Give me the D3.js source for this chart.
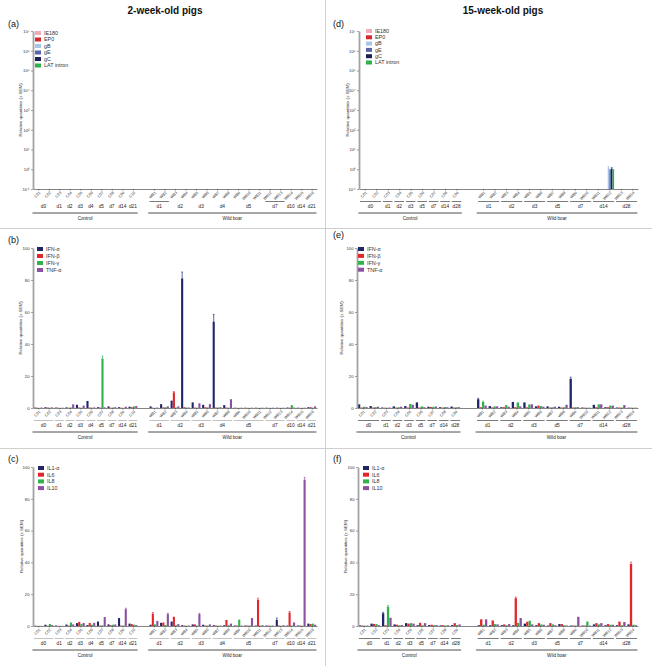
<!DOCTYPE html>
<html><head><meta charset="utf-8">
<script src="https://cdn.jsdelivr.net/npm/d3@7"></script>
<style>body{margin:0;background:#fff}svg{display:block;font-family:"Liberation Sans",Arial,sans-serif}</style>
</head><body><svg id="c" width="652" height="666"></svg>
<script>
// ---------- categories ----------
const ctrl2 = ["C01","C02","C03","C04","C05","C06","C07","C08","C09","C10"];
const ctrl2Days = ["d0","d0","d1","d2","d3","d4","d5","d7","d14","d21"];
const wb2 = ["WB1","WB2","WB3","WB4","WB5","WB6","WB7","WB8","WB9","WB10","WB11","WB12","WB13","WB14","WB15","WB16"];
const wb2Days = ["d1","d1","d2","d2","d3","d3","d4","d4","d5","d5","d5","d7","d7","d10","d14","d21"];
const ctrl15 = ["C01","C02","C03","C04","C05","C06","C07","C08","C09"];
const ctrl15Days = ["d0","d0","d1","d2","d3","d5","d7","d14","d28"];
const wb15 = ["WB1","WB2","WB3","WB4","WB5","WB6","WB7","WB8","WB9","WB10","WB11","WB12","WB13","WB14"];
const wb15Days = ["d1","d1","d2","d2","d3","d3","d5","d5","d7","d7","d14","d14","d28","d28"];
const groupNames = ["Control","Wild boar"];

const herpesSeries = ["IE180","EP0","gB","gE","gC","LAT intron"];
const ifnSeries = ["IFN-α","IFN-β","IFN-γ","TNF-α"];
const ilSeries = ["IL1-α","IL6","IL8","IL10"];
const logTicks = [0.1,1,10,100,1000,10000,100000,1000000,10000000];
const linTicks = [0,20,40,60,80,100];

// ---------- values (control samples then wild boar samples) ----------
// (a) 2-week, viral transcripts: nothing above axis minimum
const a_IE180 = [0,0,0,0,0,0,0,0,0,0, 0,0,0,0,0,0,0,0,0,0,0,0,0,0,0,0];
const a_EP0   = [0,0,0,0,0,0,0,0,0,0, 0,0,0,0,0,0,0,0,0,0,0,0,0,0,0,0];
const a_gB    = [0,0,0,0,0,0,0,0,0,0, 0,0,0,0,0,0,0,0,0,0,0,0,0,0,0,0];
const a_gE    = [0,0,0,0,0,0,0,0,0,0, 0,0,0,0,0,0,0,0,0,0,0,0,0,0,0,0];
const a_gC    = [0,0,0,0,0,0,0,0,0,0, 0,0,0,0,0,0,0,0,0,0,0,0,0,0,0,0];
const a_LAT   = [0,0,0,0,0,0,0,0,0,0, 0,0,0,0,0,0,0,0,0,0,0,0,0,0,0,0];
// (b) 2-week, IFN / TNF
const b_IFNa = [0.3,0.5,0.3,0.4,2.0,4.4,0.5,1.0,0.5,0.8, 1.0,2.4,4.6,81,3.5,2.0,54,1.8,0.2,0.2,0.2,0.2,0.2,0.3,0.2,0.5];
const b_IFNb = [0.2,0.3,0.2,0.2,0.3,0.3,0.3,0.2,0.2,0.5, 0.2,0.4,9.8,0.5,0.3,0.5,0.3,0.3,0.1,0.1,0.1,0.1,0.1,0.2,0.1,0.5];
const b_IFNg = [0.1,0.2,0.1,0.3,0.2,0.2,31,0.3,0.1,1.0, 0.1,0.5,0.3,0.3,0.2,0.4,0.3,0.2,0.1,0.1,0.1,0.1,0.1,1.8,0.1,0.2];
const b_TNFa = [0.3,0.4,0.2,2.3,1.5,0.4,0.4,0.5,0.8,1.2, 0.3,1.0,1.0,0.3,2.9,2.4,0.5,5.5,0.2,0.2,0.2,0.2,0.2,0.3,0.2,1.0];
const b_err = [["WB4","IFN-α",4],["WB7","IFN-α",4.5],["C07","IFN-γ",1.5],["WB3","IFN-β",0.5]];
// (c) 2-week, interleukins
const c_IL1a = [0.2,0.8,0.3,0.9,1.8,0.6,2.8,1.0,5.0,1.5, 0.8,2.0,2.8,0.5,1.0,0.8,0.5,0.5,0.3,0.3,0.3,0.3,3.8,0.3,0.3,1.5];
const c_IL6  = [0.1,0.2,0.1,0.3,2.6,1.9,0.3,0.5,0.3,1.2, 7.8,2.2,5.8,0.3,1.0,0.3,0.3,3.8,0.3,0.3,16.5,0.3,0.3,8.5,0.3,1.2];
const c_IL8  = [0.1,1.3,0.1,2.2,1.3,0.8,0.4,0.8,0.3,0.8, 1.0,0.6,0.5,0.2,0.3,0.3,0.2,0.5,4.0,0.3,0.3,0.2,0.2,0.3,0.2,1.5];
const c_IL10 = [0.1,0.6,0.1,1.0,1.9,2.0,5.6,1.0,10.6,0.6, 3.2,7.5,1.2,0.3,7.5,1.0,0.3,1.5,0.3,5.0,0.5,0.3,0.5,2.2,92,0.8];
const c_err = [["WB15","IL10",1.5],["WB11","IL6",1.0],["WB1","IL6",0.7],["WB14","IL6",0.6],["C09","IL10",0.6],["WB2","IL10",0.5],["WB5","IL10",0.5],["WB13","IL1-α",1.2]];
// (d) 15-week, viral transcripts
const d_IE180 = [0,0,0,0,0,0,0,0,0, 0,0,0,0,0,0,0,0,0,0,0,0,0,0];
const d_EP0   = [0,0,0,0,0,0,0,0,0, 0,0,0,0,0,0,0,0,0,0,0,0,0,0];
const d_gB    = [0,0,0,0,0,0,0,0,0, 0,0,0,0,0,0,0,0,0,0,0,1.25,0,0];
const d_gE    = [0,0,0,0,0,0,0,0,0, 0,0,0,0,0,0,0,0,0,0,0,1.0,0,0];
const d_gC    = [0,0,0,0,0,0,0,0,0, 0,0,0,0,0,0,0,0,0,0,0,1.1,0,0];
const d_LAT   = [0,0,0,0,0,0,0,0,0, 0,0,0,0,0,0,0,0,0,0,0,1.0,0,0];
const d_err = [["WB12","gB",0.15],["WB12","gC",0.1]];
// (e) 15-week, IFN / TNF
const e_IFNa = [2.3,1.2,0.3,1.0,1.2,3.5,0.8,0.5,0.9, 5.5,1.2,0.5,3.8,3.5,1.0,1.0,0.8,18.3,0.3,2.0,0.5,0.3,0.2];
const e_IFNb = [0.3,0.3,0.2,0.3,0.3,0.3,0.6,0.3,0.3, 0.5,0.4,0.5,0.5,0.4,1.5,0.3,0.3,0.3,0.2,0.5,0.5,0.3,0.2];
const e_IFNg = [0.8,0.6,0.2,0.5,2.5,1.0,0.8,0.6,0.5, 3.8,1.0,1.8,3.5,2.2,1.2,0.5,0.5,0.5,0.2,2.3,1.5,0.3,0.2];
const e_TNFa = [0.6,0.8,0.3,0.8,2.0,0.5,0.9,0.5,0.5, 1.5,1.0,0.8,1.0,2.3,0.8,0.8,2.0,0.5,0.2,2.3,1.5,1.8,0.2];
const e_err = [["WB9","IFN-α",1.0],["WB1","IFN-α",0.6],["WB1","IFN-γ",0.5]];
// (f) 15-week, interleukins
const f_IL1a = [0.4,1.5,8.0,1.0,1.8,0.5,0.6,0.4,0.6, 0.5,0.5,0.5,0.5,1.5,0.5,0.3,1.2,0.3,0.3,1.0,0.5,0.5,1.0];
const f_IL6  = [0.3,1.3,0.5,0.8,1.5,2.0,0.8,0.5,1.8, 4.2,3.5,1.0,17.5,2.7,1.8,1.8,1.2,0.3,0.3,1.8,1.2,2.8,39.0];
const f_IL8  = [0.2,1.2,12.2,0.5,1.8,0.5,0.5,0.3,0.6, 0.8,1.2,0.5,2.0,3.3,1.0,1.0,0.5,0.3,2.8,1.0,0.8,0.5,0.8];
const f_IL10 = [0.3,0.5,5.2,0.6,1.5,1.8,0.6,0.5,1.0, 4.2,1.0,1.2,5.0,1.0,0.8,0.5,0.3,5.8,0.3,1.8,0.8,2.5,0.5];
const f_err = [["WB14","IL6",1.2],["WB4","IL6",0.7],["C03","IL8",0.8],["C03","IL1-α",0.6]];

// ---------- styles ----------
const herpesColors = ["#f3a9b8","#d7282e","#a8c4e8","#5965a8","#1d1f57","#30ae4c"];
const cytoColors = ["#1f2769","#e2262c","#31b34b","#8b50a2"];

const panels = [
 {lab:"(a)", ctrl:ctrl2, ctrlDays:ctrl2Days, wb:wb2, wbDays:wb2Days, gap:1, series:herpesSeries, colors:herpesColors,
  vals:[a_IE180,a_EP0,a_gB,a_gE,a_gC,a_LAT], err:[], log:true, x0:33, x1:317, yTop:31, yBot:189, tx:20, lx:8, ly:27, legX:35, legY:33, legStep:6.5, ul:["1:d1","1:d7"], ulColor:"#222"},
 {lab:"(b)", ctrl:ctrl2, ctrlDays:ctrl2Days, wb:wb2, wbDays:wb2Days, gap:1, series:ifnSeries, colors:cytoColors,
  vals:[b_IFNa,b_IFNb,b_IFNg,b_TNFa], err:b_err, log:false, x0:33, x1:317, yTop:248, yBot:408, tx:20, lx:8, ly:243, legX:37, legY:249, legStep:7, ul:null, ulColor:"#999"},
 {lab:"(c)", ctrl:ctrl2, ctrlDays:ctrl2Days, wb:wb2, wbDays:wb2Days, gap:1, series:ilSeries, colors:cytoColors,
  vals:[c_IL1a,c_IL6,c_IL8,c_IL10], err:c_err, log:false, x0:33, x1:317, yTop:467, yBot:626, tx:21, lx:8, ly:462, legX:38, legY:468, legStep:6.7, ul:null, ulColor:"#999"},
 {lab:"(d)", ctrl:ctrl15, ctrlDays:ctrl15Days, wb:wb15, wbDays:wb15Days, gap:1.3, series:herpesSeries, colors:herpesColors,
  vals:[d_IE180,d_EP0,d_gB,d_gE,d_gC,d_LAT], err:d_err, log:true, x0:359, x1:638, yTop:31, yBot:189, tx:347, lx:333, ly:27, legX:366, legY:31, legStep:6.3, ul:null, ulColor:"#222"},
 {lab:"(e)", ctrl:ctrl15, ctrlDays:ctrl15Days, wb:wb15, wbDays:wb15Days, gap:1.3, series:ifnSeries, colors:cytoColors,
  vals:[e_IFNa,e_IFNb,e_IFNg,e_TNFa], err:e_err, log:false, x0:357, x1:638, yTop:248, yBot:408, tx:341, lx:333, ly:238, legX:358, legY:249, legStep:6.9, ul:null, ulColor:"#222"},
 {lab:"(f)", ctrl:ctrl15, ctrlDays:ctrl15Days, wb:wb15, wbDays:wb15Days, gap:1.3, series:ilSeries, colors:cytoColors,
  vals:[f_IL1a,f_IL6,f_IL8,f_IL10], err:f_err, log:false, x0:358, x1:638, yTop:467, yBot:626, tx:345, lx:333, ly:462, legX:363, legY:468, legStep:6.7, ul:null, ulColor:"#222"}
];

const svg = d3.select("#c");
// dividers
svg.append("line").attr("x1",325.5).attr("x2",325.5).attr("y1",0).attr("y2",666).attr("stroke","#cfcfcf").attr("stroke-width",1);
[228.5,448.5].forEach(yy=>svg.append("line").attr("x1",0).attr("x2",652).attr("y1",yy).attr("y2",yy).attr("stroke","#cfcfcf").attr("stroke-width",1));
// titles
svg.append("text").attr("x",165).attr("y",14).attr("text-anchor","middle").attr("font-size",10).attr("font-weight","bold").attr("fill","#111").text("2-week-old pigs");
svg.append("text").attr("x",503).attr("y",14).attr("text-anchor","middle").attr("font-size",10).attr("font-weight","bold").attr("fill","#111").text("15-week-old pigs");

const sup = {"-":"⁻","0":"⁰","1":"¹","2":"²","3":"³","4":"⁴","5":"⁵","6":"⁶","7":"⁷","8":"⁸","9":"⁹"};

function groupsOf(days, slots, section){
  const out=[];
  days.forEach((d,i)=>{const last=out[out.length-1];
    if(last && last.day===d){last.s1=slots[i];} else out.push({day:d,s0:slots[i],s1:slots[i],key:section+":"+d});});
  return out;
}

panels.forEach(p=>{
  const g = svg.append("g");
  const nC = p.ctrl.length;
  const cats = p.ctrl.concat(p.wb);
  const ctrlSlots = p.ctrl.map((c,i)=>i);
  const wbSlots = p.wb.map((c,j)=>nC+p.gap+j);
  const slots = ctrlSlots.concat(wbSlots);
  const x = d3.scaleLinear().domain([-0.5, slots[slots.length-1]+0.5]).range([p.x0,p.x1]);
  const step = x(1)-x(0);
  const sb = d3.scaleBand().domain(p.series).range([-step*0.42, step*0.42]).paddingInner(0.06);
  const y = p.log ? d3.scaleLog().domain([0.1,1e7]).range([p.yBot,p.yTop])
                  : d3.scaleLinear().domain([0,100]).range([p.yBot,p.yTop]);
  const base = p.yBot;

  // bars
  p.series.forEach((s,si)=>{
    const vals = p.vals[si];
    const recs = vals.map((v,i)=>({v,i})).filter(d=> p.log ? d.v>0.1 : d.v>0);
    g.append("g").selectAll("rect").data(recs).join("rect")
      .attr("x",d=>x(slots[d.i])+sb(s)).attr("width",sb.bandwidth())
      .attr("y",d=>y(d.v)).attr("height",d=>base-y(d.v)).attr("fill",p.colors[si]);
  });
  // error bars
  p.err.forEach(([cat,s,e])=>{
    const i = cats.indexOf(cat), si = p.series.indexOf(s);
    const v = p.vals[si][i];
    const cx = x(slots[i])+sb(s)+sb.bandwidth()/2;
    g.append("line").attr("x1",cx).attr("x2",cx).attr("y1",y(v)).attr("y2",y(v+e)).attr("stroke",p.colors[si]).attr("stroke-width",0.7);
    g.append("line").attr("x1",cx-0.9).attr("x2",cx+0.9).attr("y1",y(v+e)).attr("y2",y(v+e)).attr("stroke",p.colors[si]).attr("stroke-width",0.6);
  });

  // x axis
  const xa = g.append("g").attr("transform",`translate(0,${base})`)
    .call(d3.axisBottom(x).tickValues(slots).tickSize(1.5).tickSizeOuter(0).tickFormat(""));
  xa.select(".domain").attr("stroke","#333").attr("stroke-width",0.6);
  xa.selectAll(".tick line").attr("stroke","#333").attr("stroke-width",0.5);
  // sample labels
  g.append("g").selectAll("text").data(cats).join("text")
    .attr("transform",(d,i)=>`translate(${x(slots[i])+1.5},${base+3}) rotate(-45)`)
    .attr("text-anchor","end").attr("dy","0.35em").attr("font-size",3.8).attr("fill","#333").text(d=>d);

  // y axis
  const ya = g.append("g").attr("transform",`translate(${p.x0},0)`)
    .call(d3.axisLeft(y).tickValues(p.log?logTicks:linTicks).tickSize(2).tickSizeOuter(0).tickPadding(1.5)
      .tickFormat(d=> p.log ? "10"+String(Math.round(Math.log10(d))).split("").map(c=>sup[c]).join("") : d));
  ya.select(".domain").attr("stroke","#a3a3a3").attr("stroke-width",1.8);
  ya.selectAll(".tick line").attr("stroke","#666").attr("stroke-width",0.6);
  ya.selectAll(".tick text").attr("font-size",4.2).attr("fill","#333").attr("font-family","Liberation Sans, Arial, sans-serif");
  // y title
  g.append("text").attr("transform",`translate(${p.tx},${(p.yTop+p.yBot)/2}) rotate(-90)`)
    .attr("text-anchor","middle").attr("dy","0.35em").attr("font-size",4.4).attr("fill","#333").text("Relative quantities (± SEM)");

  // day groups
  const groups = groupsOf(p.ctrlDays, ctrlSlots, 0).concat(groupsOf(p.wbDays, wbSlots, 1));
  groups.forEach(gr=>{
    const cx = (x(gr.s0)+x(gr.s1))/2;
    g.append("text").attr("x",cx).attr("y",base+18.5).attr("text-anchor","middle").attr("font-size",4.8).attr("fill","#222").text(gr.day);
    if(!p.ul || p.ul.includes(gr.key)){
      g.append("line").attr("x1",x(gr.s0)-step*0.42).attr("x2",x(gr.s1)+step*0.42)
        .attr("y1",base+12.5).attr("y2",base+12.5).attr("stroke",p.ulColor).attr("stroke-width",0.6);
    }
  });
  // main groups
  [[ctrlSlots,groupNames[0]],[wbSlots,groupNames[1]]].forEach(([sl,name])=>{
    const a = x(sl[0])-step*0.55, b = x(sl[sl.length-1])+step*0.45;
    g.append("line").attr("x1",a).attr("x2",b).attr("y1",base+24).attr("y2",base+24).attr("stroke","#222").attr("stroke-width",0.8);
    g.append("text").attr("x",(a+b)/2).attr("y",base+30.5).attr("text-anchor","middle").attr("font-size",4.6).attr("fill","#222").text(name);
  });

  // legend
  const lg = g.append("g");
  p.series.forEach((s,si)=>{
    const yy = p.legY + si*p.legStep;
    lg.append("rect").attr("x",p.legX).attr("y",yy-2).attr("width",6).attr("height",4).attr("fill",p.colors[si]);
    lg.append("text").attr("x",p.legX+9).attr("y",yy).attr("dy","0.35em").attr("font-size",5.4).attr("fill","#333").text(s);
  });
  // panel label
  g.append("text").attr("x",p.lx).attr("y",p.ly).attr("font-size",9).attr("fill","#111").text(p.lab);
});
</script></body></html>
